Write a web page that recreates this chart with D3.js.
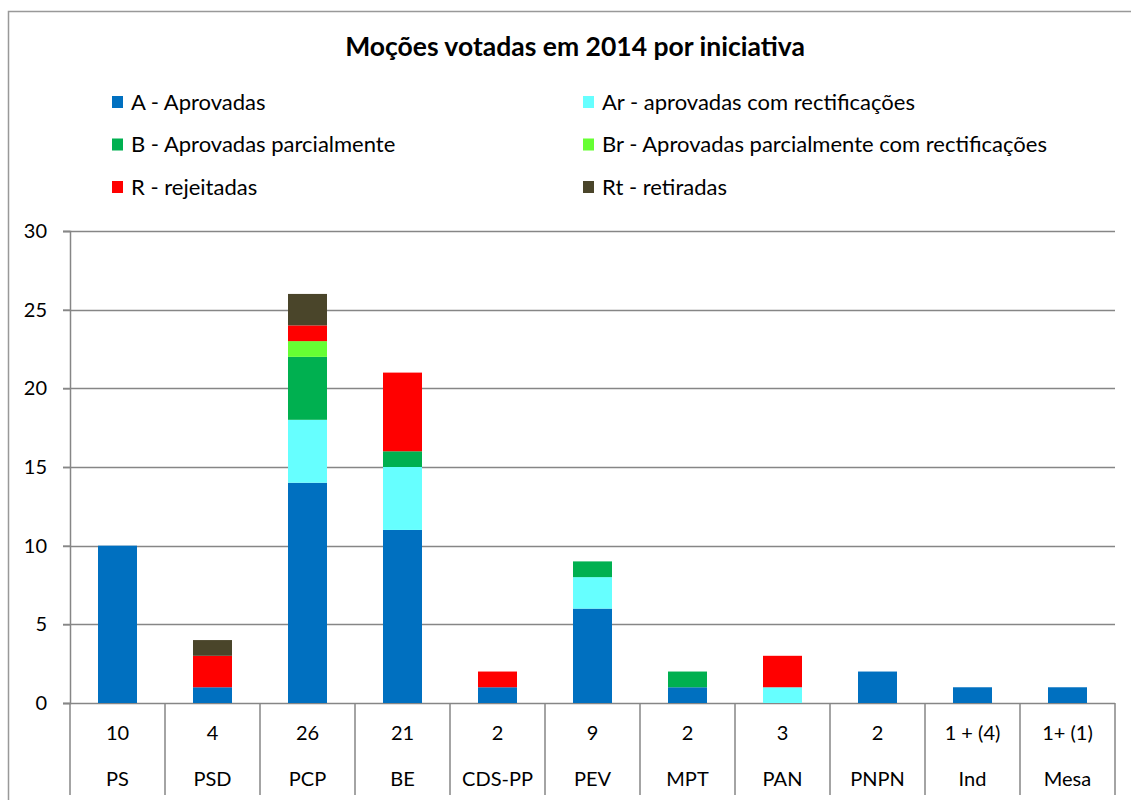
<!DOCTYPE html>
<html>
<head>
<meta charset="utf-8">
<script src="https://cdn.jsdelivr.net/npm/d3@7"></script>
<style>
  body { margin: 0; background: #fff; }
  text { font-family: Lato, "Open Sans", sans-serif; fill: #000; }
</style>
</head>
<body>
<svg id="chart" width="1131" height="800"></svg>
<script>
// data
const parties = ["PS", "PSD", "PCP", "BE", "CDS-PP", "PEV", "MPT", "PAN", "PNPN", "Ind", "Mesa"];
const totals = ["10", "4", "26", "21", "2", "9", "2", "3", "2", "1 + (4)", "1+ (1)"];
const aprovadas = [10, 1, 14, 11, 1, 6, 1, 0, 2, 1, 1];
const aprovadasRect = [0, 0, 4, 4, 0, 2, 0, 1, 0, 0, 0];
const parcial = [0, 0, 4, 1, 0, 1, 1, 0, 0, 0, 0];
const parcialRect = [0, 0, 1, 0, 0, 0, 0, 0, 0, 0, 0];
const rejeitadas = [0, 2, 1, 5, 1, 0, 0, 2, 0, 0, 0];
const retiradas = [0, 1, 2, 0, 0, 0, 0, 0, 0, 0, 0];
const yTicks = [0, 5, 10, 15, 20, 25, 30];

const seriesKeys = ["A", "Ar", "B", "Br", "R", "Rt"];
const seriesLabels = [
  "A - Aprovadas",
  "Ar - aprovadas com rectificações",
  "B - Aprovadas parcialmente",
  "Br - Aprovadas parcialmente com rectificações",
  "R - rejeitadas",
  "Rt - retiradas"
];
const colors = ["#0070C0", "#66FFFF", "#00B050", "#66FF33", "#FF0000", "#4A452A"];

const rows = parties.map((p, i) => ({
  party: p,
  A: aprovadas[i], Ar: aprovadasRect[i], B: parcial[i],
  Br: parcialRect[i], R: rejeitadas[i], Rt: retiradas[i]
}));

const svg = d3.select("#chart");
const plotL = 70, plotR = 1115, plotT = 231, plotB = 703;

// outer frame
svg.append("rect")
  .attr("x", 8.5).attr("y", 11.5)
  .attr("width", 1140).attr("height", 800)
  .attr("fill", "none").attr("stroke", "#999").attr("stroke-width", 1.5);

svg.append("text")
  .attr("x", 575).attr("y", 56)
  .attr("text-anchor", "middle")
  .style("font-size", "26.5px").style("font-weight", "bold")
  .text("Moções votadas em 2014 por iniciativa");

// legend, two columns
const legend = svg.append("g");
seriesLabels.forEach((lab, i) => {
  const col = i % 2, row = Math.floor(i / 2);
  const lx = col === 0 ? 112 : 583;
  const ly = 102 + row * 42.5;
  legend.append("rect")
    .attr("x", lx).attr("y", ly - 6).attr("width", 11).attr("height", 12)
    .attr("fill", colors[i]);
  legend.append("text")
    .attr("x", lx + 19).attr("y", ly)
    .attr("dy", "0.35em")
    .style("font-size", "22px")
    .text(lab);
});

const x = d3.scaleBand().domain(parties).range([plotL, plotR]).paddingInner(0).paddingOuter(0);
const y = d3.scaleLinear().domain([0, 30]).range([plotB, plotT]);
const barW = 39;

// gridlines
svg.append("g")
  .selectAll("line")
  .data(yTicks)
  .join("line")
  .attr("x1", plotL - 7).attr("x2", plotR)
  .attr("y1", d => Math.round(y(d)) + 0.5).attr("y2", d => Math.round(y(d)) + 0.5)
  .attr("stroke", "#868686").attr("stroke-width", 1.5);

// y axis
const yAxis = svg.append("g")
  .attr("transform", `translate(${plotL},0)`)
  .call(d3.axisLeft(y).tickValues(yTicks).tickSize(7).tickPadding(16));
yAxis.select(".domain").attr("stroke", "#868686").attr("stroke-width", 1.5);
yAxis.selectAll(".tick line").attr("stroke", "#868686").attr("stroke-width", 1.5);
yAxis.selectAll(".tick text").style("font-size", "20px").style("font-family", "Lato, sans-serif");

// stacked bars
const stack = d3.stack().keys(seriesKeys)(rows);
svg.append("g")
  .selectAll("g")
  .data(stack)
  .join("g")
  .attr("fill", (d, i) => colors[i])
  .selectAll("rect")
  .data(d => d)
  .join("rect")
  .attr("x", d => x(d.data.party) + x.bandwidth() / 2 - barW / 2)
  .attr("width", barW)
  .attr("y", d => y(d[1]))
  .attr("height", d => y(d[0]) - y(d[1]));

// category separators
const seps = parties.map(p => x(p)).concat([plotR]);
svg.append("g")
  .selectAll("line")
  .data(seps)
  .join("line")
  .attr("x1", d => d).attr("x2", d => d)
  .attr("y1", plotB).attr("y2", 795)
  .attr("stroke", "#868686").attr("stroke-width", 1.5);

// two rows of category labels
svg.append("g")
  .selectAll("text")
  .data(totals)
  .join("text")
  .attr("x", (d, i) => x(parties[i]) + x.bandwidth() / 2)
  .attr("y", 733).attr("dy", "0.35em")
  .attr("text-anchor", "middle")
  .style("font-size", "20px")
  .text(d => d);

svg.append("g")
  .selectAll("text")
  .data(parties)
  .join("text")
  .attr("x", d => x(d) + x.bandwidth() / 2)
  .attr("y", 779).attr("dy", "0.35em")
  .attr("text-anchor", "middle")
  .style("font-size", "20px")
  .text(d => d);
</script>
</body>
</html>
